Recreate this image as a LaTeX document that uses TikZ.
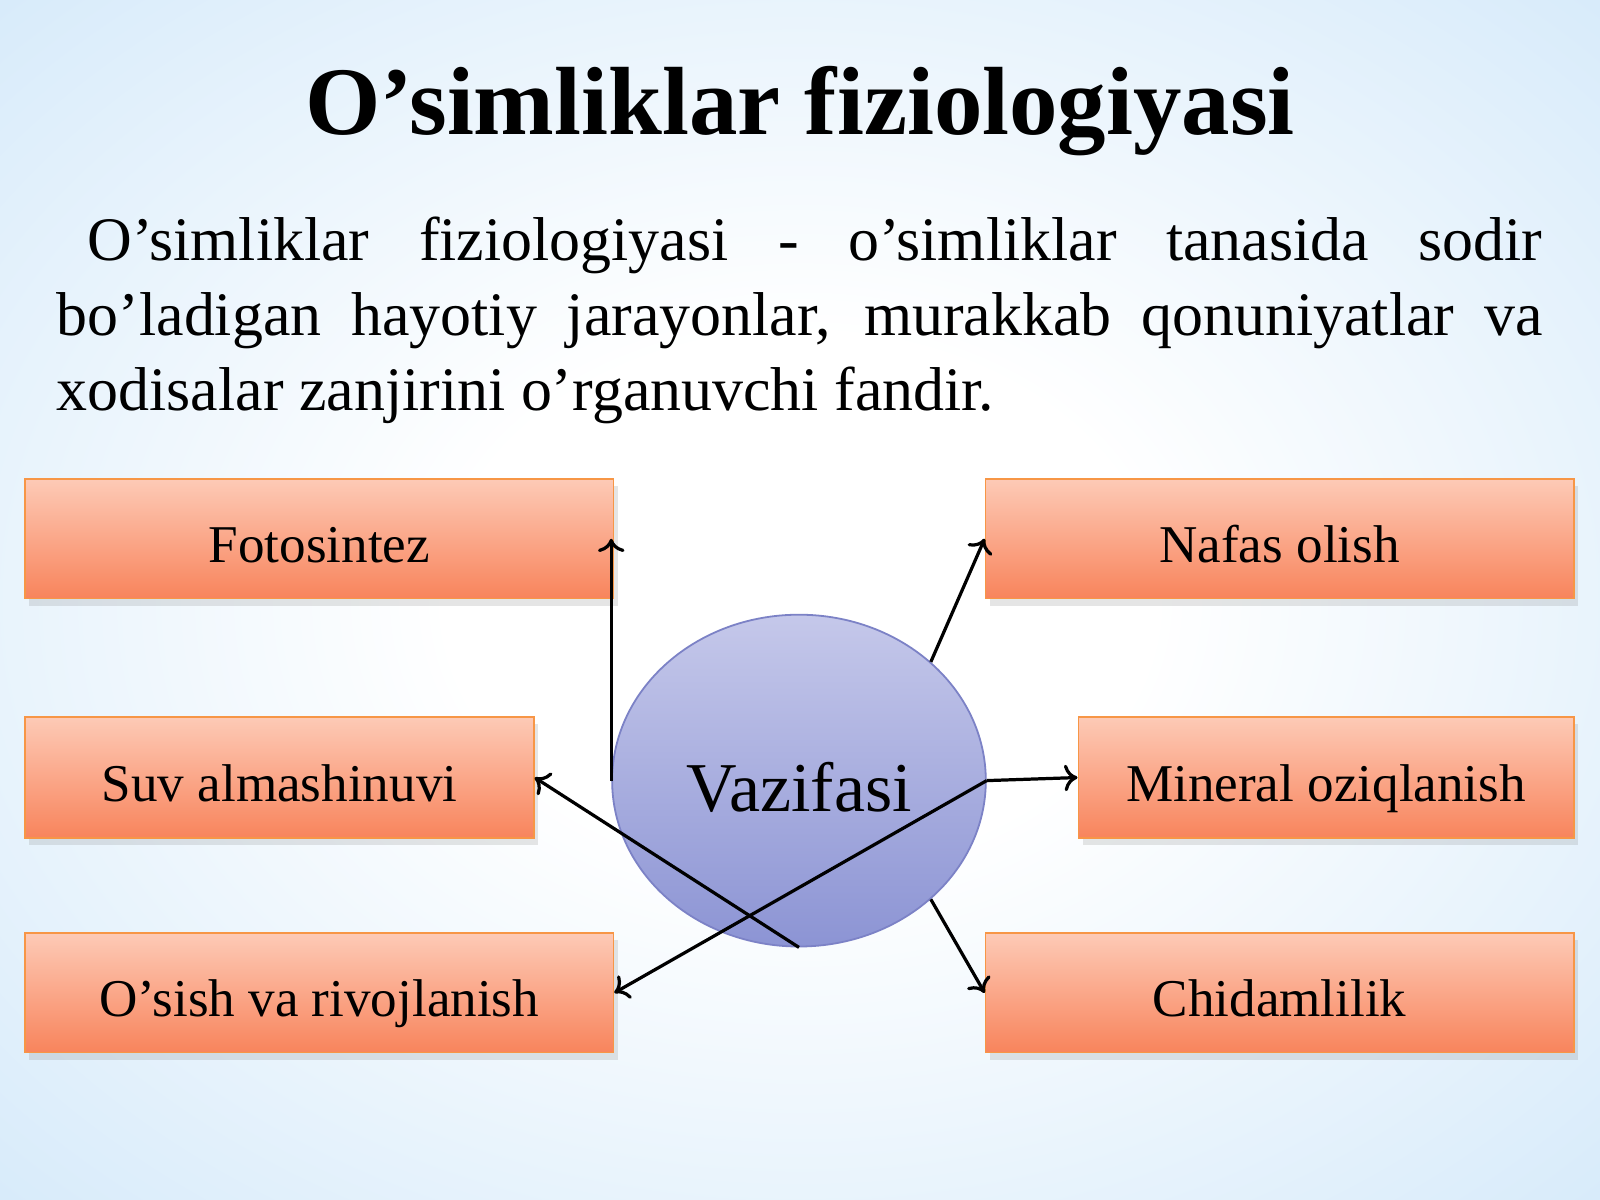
\documentclass[tikz,border=0pt]{standalone}
\usepackage{fontspec}
\setmainfont{Liberation Serif}
\usetikzlibrary{shapes.geometric,shadows,arrows.meta}

\definecolor{bgblue}{HTML}{9ACAF1}
\definecolor{bgmid}{HTML}{C0DFF7}
\definecolor{boxtop}{HTML}{FDCAB6}
\definecolor{boxmid}{HTML}{FBB197}
\definecolor{boxbot}{HTML}{F8845C}
\definecolor{boxline}{HTML}{F79646}
\definecolor{ovaltop}{HTML}{C5C8EA}
\definecolor{ovalbot}{HTML}{8C94D4}
\definecolor{ovalline}{HTML}{7C82C6}
\pgfdeclareradialshading{slidebg}{\pgfpoint{0bp}{0bp}}{color(0bp)=(white); color(11bp)=(white); color(50bp)=(bgmid); color(71bp)=(bgblue)}

\begin{document}
\begin{tikzpicture}[x=0.01cm,y=-0.01cm,
  fbox/.style={draw=boxline,line width=0.5pt,top color=boxtop,middle color=boxmid,bottom color=boxbot,
    minimum height=1.17cm,inner sep=0pt,font=\fontsize{14.8}{18}\selectfont,text height=0.47cm,text depth=0pt,
    drop shadow={shadow xshift=0.04cm,shadow yshift=-0.07cm,opacity=0.2}},
  oval/.style={ellipse,draw=ovalline,line width=0.5pt,top color=ovaltop,bottom color=ovalbot,
    minimum width=3.66cm,minimum height=3.25cm,inner sep=0pt,font=\fontsize{19.5}{23}\selectfont,
    text height=0.6cm,text depth=0pt},
  link/.style={-{To[length=1.3mm,width=2.6mm]},line width=0.9pt}]

\useasboundingbox (0,0) rectangle (1568,1176);
\shade[shading=slidebg] (0,0) rectangle (1568,1176);

\node (title) [anchor=base,font=\bfseries\fontsize{27}{33}\selectfont] at (784,132) {O'simliklar fiziologiyasi};
\node (intro) [anchor=north west,text width=14.55cm,align=justify,inner sep=0pt,font=\fontsize{17.25}{20.9}\selectfont] at (55,212)
  {\hspace*{0.3cm}O'simliklar fiziologiyasi - o'simliklar tanasida sodir\linebreak
   bo'ladigan hayotiy jarayonlar, murakkab qonuniyatlar va\linebreak
   xodisalar zanjirini o'rganuvchi fandir.};

% ishlar
\node (fot) [fbox,minimum width=5.76cm] at (313,528) {Fotosintez};
\node (suv) [fbox,minimum width=4.98cm,minimum height=1.19cm] at (274,762) {Suv almashinuvi};
\node (osi) [fbox,minimum width=5.76cm] at (313,973) {O'sish va rivojlanish};
\node (naf) [fbox,minimum width=5.76cm] at (1254,528) {Nafas olish};
\node (mnr) [fbox,minimum width=4.85cm,minimum height=1.19cm] at (1299.5,762) {Mineral oziqlanish};
\node (chi) [fbox,minimum width=5.76cm] at (1254,973) {Chidamlilik};

\node (vaz) [oval] at (783,765) {Vazifasi};

% bog'lanishlar
\draw[link] (vaz.west) -- (vaz.west |- fot.east);
\draw[link] (vaz.42) -- (naf.west);
\draw[link] (vaz.east) -- (mnr.west);
\draw[link] (vaz.-42) -- (chi.west);
\draw[link] (vaz.south) -- (suv.east);
\draw[link] (vaz.east) -- (osi.east);

\end{tikzpicture}
\end{document}
